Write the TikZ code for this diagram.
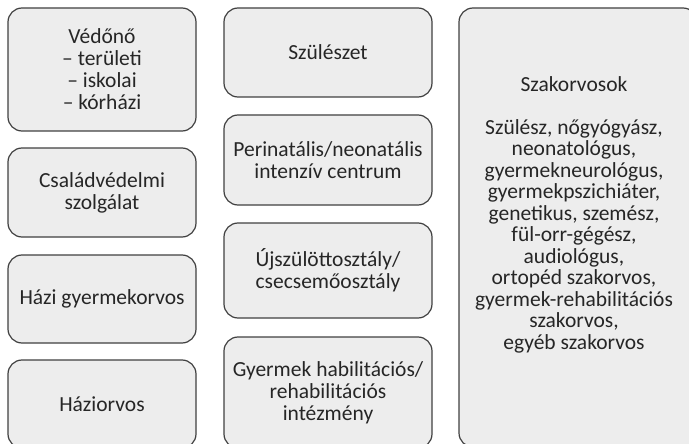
\documentclass[tikz,border=0pt]{standalone}
\usepackage{fontspec}
\setmainfont{Carlito}
\usepackage{tikz}
\definecolor{boxline}{HTML}{404040}
\definecolor{boxfill}{HTML}{EDEDED}
\definecolor{boxtext}{HTML}{262626}

\begin{document}
\begin{tikzpicture}
[x=1pt, y=-1pt,
box/.style={draw=boxline, fill=boxfill, line width=1.2pt, rounded corners=14pt, inner sep=0pt, align=center, text=boxtext, font=\fontsize{21.5}{22}\selectfont},
leftbox/.style={box, minimum width=188pt},
midbox/.style={box, minimum width=208pt},
label text/.style={align=center, text=boxtext, inner sep=0pt, font=\fontsize{21.5}{21.5}\selectfont}]
\useasboundingbox (0,0) rectangle (689,444);
\clip (0,0) rectangle (689,444);
\node[leftbox, minimum height=123pt] (vedono) at (102,69.5) {Védőnő\\– területi\\– iskolai\\– kórházi};
\node[leftbox, minimum height=89pt] (csalad) at (102,192.5) {Családvédelmi\\szolgálat};
\node[leftbox, minimum height=88pt] (hazigyerm) at (102,299) {Házi gyermekorvos};
\node[leftbox, minimum height=88pt] (haziorvos) at (102,404) {Háziorvos};
\node[midbox, minimum height=89pt] (szuleszet) at (328,52.5) {Szülészet};
\node[midbox, minimum height=90pt] (perinat) at (328,160) {Perinatális/neonatális\\intenzív centrum};
\node[midbox, minimum height=95pt] (ujszulott) at (328,270.5) {Újszülöttosztály/\\csecsemőosztály};
\node[midbox, minimum height=111pt] (habil) at (328,392.5) {Gyermek habilitációs/\\rehabilitációs\\intézmény};
\node[box, minimum width=238pt, minimum height=439pt] (szakorvos) at (578,227.5) {};
\node[label text] (szaklista) at (574,214.5) {Szakorvosok\\[21.5pt]Szülész, nőgyógyász,\\neonatológus,\\gyermekneurológus,\\gyermekpszichiáter,\\genetikus, szemész,\\fül-orr-gégész,\\audiológus,\\ortopéd szakorvos,\\gyermek-rehabilitációs\\szakorvos,\\egyéb szakorvos};
\end{tikzpicture}
\end{document}
